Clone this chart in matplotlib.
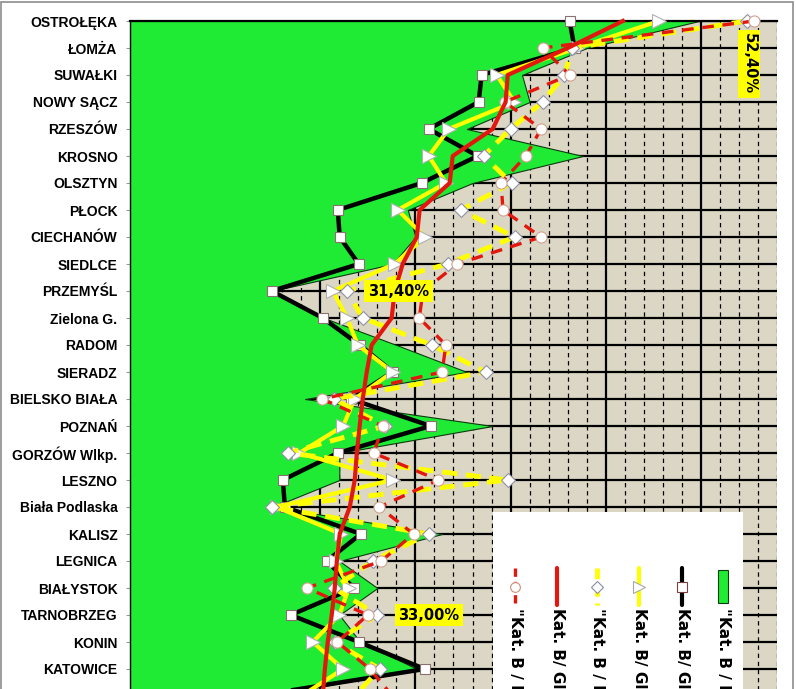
import numpy as np
import matplotlib.pyplot as plt
from matplotlib.patches import Rectangle

plt.rcParams['font.family'] = ['Liberation Sans', 'DejaVu Sans']

# Categories (top to bottom); the last one sits just below the visible crop
cities = ['OSTROŁĘKA', 'ŁOMŻA', 'SUWAŁKI', 'NOWY SĄCZ', 'RZESZÓW', 'KROSNO',
          'OLSZTYN', 'PŁOCK', 'CIECHANÓW', 'SIEDLCE', 'PRZEMYŚL', 'Zielona G.',
          'RADOM', 'SIERADZ', 'BIELSKO BIAŁA', 'POZNAŃ', 'GORZÓW Wlkp.',
          'LESZNO', 'Biała Podlaska', 'KALISZ', 'LEGNICA', 'BIAŁYSTOK',
          'TARNOBRZEG', 'KONIN', 'KATOWICE', '']

# Series values (%)
area_green = [49.9, 44.0, 40.6, 41.0, 37.7, 43.8, 38.0, 34.6, 35.0, 33.8,
              27.45, 30.2, 34.0, 37.7, 29.2, 39.05, 31.0, 31.0, 27.5, 36.4,
              31.0, 33.0, 31.0, 32.1, 35.1, 27.3]
black_sq = [43.1, 43.36, 38.48, 38.32, 35.7, 38.27, 35.33, 30.92, 31.02, 32.02,
            27.45, 30.13, 32.07, 33.81, 31.6, 35.8, 30.92, 28.03, 28.14, 32.13,
            30.34, 31.76, 28.45, 32.02, 35.49, 26.6]
yellow_tri = [47.8, 43.5, 39.27, 40.2, 36.75, 35.7, 36.6, 34.07, 35.5, 33.9,
              30.66, 31.4, 31.97, 33.8, 31.8, 31.2, 28.9, 33.8, 27.7, 31.1,
              30.8, 31.5, 31.0, 29.6, 31.2, 29.0]
yellow_dia = [52.4, 43.25, 42.83, 41.68, 40.0, 38.58, 40.05, 37.38, 40.21, 36.69,
              31.4, 32.23, 35.85, 38.69, 30.71, 33.39, 28.29, 39.84, 27.45, 35.7,
              32.76, 30.71, 33.0, 30.76, 33.12, 31.8]
red_line = [45.9, 43.0, 39.85, 39.74, 39.06, 36.96, 36.8, 35.22, 35.07, 34.33,
            33.91, 33.75, 32.7, 32.44, 32.23, 32.07, 31.92, 31.81, 31.55, 31.02,
            30.87, 30.76, 30.6, 30.39, 30.24, 30.13]
red_circ = [52.8, 41.68, 43.1, 39.7, 41.6, 40.8, 39.5, 39.6, 41.6, 37.2,
            35.4, 35.2, 36.6, 36.4, 30.1, 33.3, 32.8, 36.2, 33.1, 34.9,
            33.2, 29.3, 32.5, 30.9, 32.6, 33.8]

legend_labels = ['"Kat. B / I termin 2009"', 'Kat. B/ Globalnie 2009',
                 '"Kat. B / I termin 2008"', 'Kat. B/ Globalnie 2008',
                 'Kat. B/ Globalnie 2007', '"Kat. B / I termin 2007"']
labelled = ['OSTROŁĘKA', 'PRZEMYŚL', 'TARNOBRZEG']

GREEN = '#1FEB34'
TAN = '#DCD7C5'
YELLOW = '#FFFF00'
RED = '#E2180F'

W, H = 796, 689
fig = plt.figure(figsize=(W / 100, H / 100), dpi=100)

def fx(px):
    return px / W

def fy(py):
    return 1 - py / H

rows = np.arange(len(cities))
top_px, row_px = 21, 27.0
bottom_px = top_px + row_px * (len(cities) - 1)
ax = fig.add_axes([fx(130), fy(bottom_px), fx(777 - 130), (bottom_px - top_px) / H])
ax.set_facecolor(TAN)
ax.set_xlim(20, 54)
ax.set_ylim(len(cities) - 1, 0)

# grid
ax.set_xticks(np.arange(20, 55, 5))
ax.set_xticks(np.arange(20, 55, 1), minor=True)
ax.tick_params(axis='x', which='both', length=0, labelbottom=False)
ax.set_axisbelow(True)
ax.grid(axis='x', which='minor', color='black', lw=0.9, ls=(0, (3.5, 3)))
ax.grid(axis='x', which='major', color='black', lw=1.6)
ax.grid(axis='y', which='major', color='black', lw=1.6)

ax.set_yticks(rows, cities, fontweight='bold', fontsize=10)
ax.tick_params(axis='y', length=3, width=0.8, color='#999999', pad=6)
for s in ['right', 'bottom']:
    ax.spines[s].set_visible(False)
ax.spines['top'].set_linewidth(1.6)
ax.spines['left'].set_linewidth(1.0)

# series
ax.fill_betweenx(rows, 20, area_green, facecolor=GREEN, edgecolor='#0d3a10',
                 linewidth=0.8, zorder=1)
ax.plot(black_sq, rows, color='black', lw=3.2, marker='s', ms=7, mfc='white',
        mec='#8a7070', mew=0.8, zorder=3, clip_on=False)
ax.plot(yellow_tri, rows, color=YELLOW, lw=3, marker='>', ms=9.5, mfc='white',
        mec='#b0b0b0', mew=0.8, zorder=4, clip_on=False)
ax.plot(yellow_dia, rows, color=YELLOW, lw=3.5, dashes=(3.1, 1.8), marker='D',
        ms=7, mfc='white', mec='#9090a8', mew=0.8, zorder=5, clip_on=False)
ax.plot(red_circ, rows, color=RED, lw=2.4, dashes=(3.5, 2.6), marker='o', ms=8,
        mfc='white', mec='#d0a090', mew=0.8, zorder=6, clip_on=False)
ax.plot(red_line, rows, color=RED, lw=3, zorder=7, clip_on=False)

# data labels
for city in labelled:
    i = cities.index(city)
    v = yellow_dia[i]
    txt = f'{v:.2f}%'.replace('.', ',')
    box = dict(boxstyle='square,pad=0.25', fc=YELLOW, ec='none')
    if i == 0:
        ax.annotate(txt, (v, i), xytext=(2, -31), textcoords='offset points',
                    ha='center', va='center', rotation=-90, fontsize=10.5,
                    fontweight='bold', family='DejaVu Sans', bbox=box, zorder=9)
    else:
        ax.annotate(txt, (v, i), xytext=(15, 0), textcoords='offset points',
                    ha='left', va='center', fontsize=10.5, fontweight='bold',
                    family='DejaVu Sans', bbox=box, zorder=9)

# legend (rotated entries, like the source)
lax = fig.add_axes([fx(493), fy(740), fx(250), (740 - 512) / H])
lax.set_facecolor('white')
lax.set_xlim(493, 743)
lax.set_ylim(740, 512)
lax.set_xticks([])
lax.set_yticks([])
for s in lax.spines.values():
    s.set_visible(False)

lx = [515, 557, 597, 639, 682, 723]
styles = [
    dict(color=RED, lw=2.4, dashes=(2.5, 1.5), marker='o', mec='#c8907a', ms=7),
    dict(color=RED, lw=3),
    dict(color=YELLOW, lw=3.5, dashes=(2.2, 1.4), marker='D', mec='#8a8aa8', ms=6),
    dict(color=YELLOW, lw=3, marker='>', mec='#a8a8a8', ms=8),
    dict(color='black', lw=3, marker='s', mec='#7a4040', ms=7),
]
for x, st in zip(lx[:5], styles):
    mk = st.pop('marker', None)
    mec = st.pop('mec', None)
    ms = st.pop('ms', None)
    lax.plot([x, x], [568, 605], solid_capstyle='round', **st)
    if mk:
        lax.plot([x], [587], marker=mk, ms=ms, mfc='white', mec=mec, mew=0.8,
                 linestyle='none')
lax.add_patch(Rectangle((lx[5] - 5, 570), 10, 33, facecolor=GREEN,
                        edgecolor='#0d3a10', lw=0.8))
for x, lab in zip(lx, legend_labels):
    lax.text(x, 608, lab, rotation=-90, ha='center', va='top', fontsize=11,
             fontweight='bold', family='DejaVu Sans')

# chart area border
fig.add_artist(Rectangle((fx(1), fy(760)), fx(792), (760 - 2) / H,
                         transform=fig.transFigure, fill=False,
                         edgecolor='#8c8c8c', lw=1.2))

fig.savefig('out.png', dpi=100)
